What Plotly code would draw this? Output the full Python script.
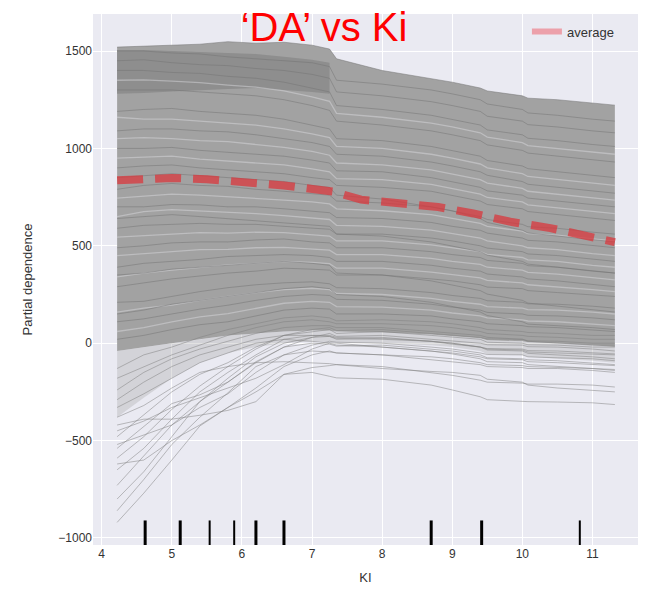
import plotly.graph_objects as go

# ---- data ----
ki = [4.22, 4.6, 5.0, 5.4, 5.8, 6.2, 6.6, 7.0, 7.25, 7.35, 8.0, 8.7, 9.0, 9.4, 9.5,
      10.0, 10.08, 10.5, 11.0, 11.32]

# envelope of the dense mass of ICE curves
mass_upper = [1520, 1525, 1530, 1535, 1548, 1540, 1545, 1530, 1510, 1460, 1400, 1360, 1340, 1310, 1295,
              1270, 1258, 1250, 1232, 1222]
mass_lower = [-40, -20, 0, 20, 40, 50, 60, 65, 65, 60, 55, 45, 35, 25, 15, 10, 5, 0, -10, -20]
soft_lower = [-380, -280, -180, -100, -50, -20, 0, 10, 10, 5, 0, -10, -20, -40, -55, -60, -70, -80, -90, -100]

# dark core (top-left)
core_x = [4.22, 4.6, 5.0, 5.4, 5.8, 6.2, 6.6, 7.0, 7.25]
core_upper = [1505, 1505, 1500, 1495, 1492, 1485, 1470, 1455, 1440]
core_lower = [1280, 1285, 1292, 1300, 1305, 1310, 1300, 1290, 1280]

# individual ICE curves fanning out below zero (estimated)
fan_lines = [
    [-920, -770, -600, -425, -330, -250, -160, -125, -115, -110, -120, -150, -165, -190, -200, -205, -210, -210, -215, -225],
    [-860, -700, -520, -380, -255, -120, -60, -40, -45, -50, -60, -85, -95, -110, -120, -125, -130, -130, -140, -150],
    [-800, -660, -480, -300, -200, -95, -20, 0, -5, -15, -10, -30, -40, -60, -75, -80, -85, -90, -100, -110],
    [-730, -580, -420, -330, -260, -150, -60, -10, 10, 5, 0, -20, -30, -50, -58, -60, -70, -75, -80, -90],
    [-650, -540, -390, -250, -150, -60, 20, 40, 40, 30, 30, 10, 0, -20, -28, -30, -38, -40, -50, -55],
    [-590, -480, -340, -220, -120, -30, 40, 60, 70, 50, 60, 40, 30, 20, 5, 0, -8, -10, -20, -20],
    [-540, -430, -310, -265, -200, -100, -20, 30, 50, 35, 40, 20, 10, 0, -8, -10, -18, -20, -30, -40],
    [-480, -370, -250, -160, -100, -20, 40, 70, 80, 65, 70, 50, 40, 30, 22, 20, 12, 10, 0, 0],
    [-420, -390, -390, -370, -345, -300, -160, -150, -170, -178, -185, -215, -240, -275, -290, -300, -300, -302, -306, -315],
    [-380, -320, -230, -150, -120, -100, -95, -100, -105, -110, -130, -145, -150, -165, -185, -200, -215, -230, -240, -250],
    [-330, -260, -180, -100, -50, 0, 20, 10, 5, 0, -20, -40, -55, -80, -95, -100, -110, -120, -130, -135],
    [-290, -200, -120, -60, -20, 20, 40, 40, 35, 25, 20, 10, 0, -20, -35, -40, -52, -60, -70, -80],
    [-520, -470, -420, -300, -180, -70, 0, 30, 35, 20, 25, 10, -5, -20, -30, -35, -45, -50, -55, -60],
    [-450, -400, -330, -280, -230, -180, -110, -30, 0, -10, -20, -40, -50, -70, -80, -85, -95, -100, -110, -115],
    [-240, -150, -80, -30, 10, 50, 80, 90, 90, 80, 80, 60, 50, 40, 30, 20, 10, 0, -10, -10],
    [-180, -120, -60, -10, 40, 80, 110, 120, 110, 100, 100, 90, 80, 60, 50, 40, 35, 30, 20, 20],
    [-620, -600, -500, -420, -330, -230, -120, -60, -40, -50, -60, -70, -80, -100, -110, -115, -120, -125, -130, -140],
    [-130, -60, -20, 30, 70, 100, 130, 140, 130, 115, 120, 110, 100, 80, 70, 60, 55, 50, 40, 40],
]

# individual ICE curves inside the dense mass (estimated)
mass_lines = [
    [20, 40, 70, 95, 110, 140, 170, 180, 175, 150, 150, 140, 125, 110, 100, 90, 85, 80, 70, 60],
    [110, 125, 150, 175, 195, 220, 240, 250, 245, 225, 220, 200, 185, 170, 158, 150, 143, 140, 130, 120],
    [210, 215, 240, 265, 285, 300, 310, 315, 305, 285, 280, 260, 245, 230, 218, 210, 202, 200, 190, 180],
    [290, 310, 330, 345, 360, 370, 385, 380, 375, 350, 350, 330, 320, 300, 288, 280, 270, 260, 250, 240],
    [390, 410, 420, 430, 445, 450, 455, 450, 440, 420, 420, 400, 385, 370, 355, 340, 330, 320, 300, 290],
    [490, 500, 515, 520, 520, 530, 535, 520, 515, 490, 490, 470, 455, 440, 425, 410, 398, 390, 370, 360],
    [590, 605, 610, 615, 610, 610, 600, 590, 585, 560, 560, 540, 525, 500, 488, 470, 458, 450, 430, 420],
    [700, 700, 712, 710, 700, 700, 690, 680, 670, 645, 640, 620, 600, 580, 565, 540, 528, 520, 500, 490],
    [790, 810, 820, 810, 805, 790, 780, 770, 760, 730, 720, 700, 680, 650, 635, 610, 598, 590, 570, 560],
    [900, 910, 915, 900, 890, 880, 870, 850, 840, 810, 800, 780, 760, 730, 712, 690, 676, 660, 640, 630],
    [1000, 1000, 1005, 990, 980, 970, 960, 940, 925, 885, 880, 850, 830, 800, 782, 760, 745, 730, 710, 700],
    [1090, 1100, 1100, 1090, 1085, 1070, 1050, 1030, 1010, 970, 960, 930, 910, 880, 862, 830, 816, 800, 780, 770],
    [1190, 1200, 1205, 1190, 1180, 1170, 1150, 1120, 1100, 1050, 1040, 1010, 990, 960, 938, 910, 896, 880, 860, 850],
    [1300, 1300, 1300, 1290, 1280, 1270, 1250, 1220, 1195, 1140, 1120, 1090, 1070, 1040, 1018, 990, 976, 960, 940, 930],
    [1400, 1400, 1390, 1385, 1370, 1360, 1340, 1310, 1290, 1220, 1200, 1170, 1150, 1120, 1095, 1070, 1052, 1040, 1020, 1010],
    [1450, 1455, 1440, 1430, 1425, 1410, 1400, 1380, 1360, 1290, 1270, 1240, 1220, 1190, 1165, 1140, 1122, 1110, 1090, 1080],
    [1500, 1500, 1490, 1485, 1470, 1460, 1450, 1440, 1420, 1350, 1330, 1300, 1280, 1250, 1228, 1200, 1182, 1170, 1150, 1140],
    [1520, 1525, 1530, 1535, 1548, 1540, 1545, 1530, 1510, 1460, 1400, 1360, 1340, 1310, 1295, 1270, 1258, 1250, 1232, 1222],
    [640, 650, 660, 650, 640, 630, 620, 610, 600, 560, 550, 520, 500, 470, 452, 420, 406, 390, 370, 360],
    [350, 360, 380, 390, 400, 410, 420, 410, 400, 360, 350, 320, 300, 270, 252, 220, 206, 190, 170, 160],
    [150, 170, 200, 220, 240, 260, 280, 290, 280, 250, 240, 210, 190, 160, 142, 110, 98, 90, 80, 70],
    [850, 860, 870, 860, 850, 840, 830, 810, 800, 760, 740, 700, 680, 640, 620, 580, 566, 550, 530, 520],
]

# light gaps between curves (white streaks)
gap_lines = [
    [1050, 1055, 1050, 1040, 1035, 1020, 1005, 985, 965, 925, 915, 890, 870, 840, 822, 795, 780, 765, 745, 735],
    [950, 955, 960, 945, 935, 925, 915, 895, 880, 845, 840, 815, 795, 765, 748, 725, 710, 695, 675, 665],
    [745, 755, 765, 760, 752, 745, 735, 725, 715, 690, 680, 660, 640, 615, 600, 575, 562, 555, 535, 525],
    [545, 552, 562, 568, 565, 570, 568, 555, 550, 525, 525, 505, 490, 470, 456, 440, 428, 420, 400, 390],
    [340, 360, 375, 388, 402, 410, 420, 415, 408, 385, 385, 365, 352, 335, 322, 310, 300, 290, 275, 265],
    [160, 180, 195, 220, 240, 260, 275, 282, 275, 255, 250, 230, 215, 200, 188, 180, 172, 170, 160, 150],
    [60, 80, 110, 135, 152, 180, 205, 215, 210, 188, 185, 170, 155, 140, 130, 120, 114, 110, 100, 90],
    [1160, 1150, 1150, 1140, 1130, 1120, 1100, 1075, 1055, 1010, 1000, 970, 950, 920, 900, 870, 856, 840, 820, 810],
    [1350, 1352, 1345, 1338, 1325, 1315, 1295, 1265, 1242, 1180, 1160, 1130, 1110, 1080, 1058, 1030, 1014, 1000, 980, 970],
    [650, 675, 686, 680, 672, 665, 655, 645, 635, 605, 600, 580, 562, 540, 525, 500, 490, 480, 460, 450],
    [450, 460, 470, 480, 482, 490, 492, 485, 478, 455, 455, 435, 420, 405, 390, 375, 364, 355, 335, 325],
]

# average curve
avg_x = [4.22, 4.6, 5.0, 5.5, 6.1, 6.6, 7.15, 7.3, 7.7, 8.25, 8.8, 9.3, 9.85, 10.4, 10.95, 11.32]
avg_y = [836, 840, 848, 842, 826, 810, 785, 778, 737, 719, 699, 666, 622, 591, 553, 519]

# rug (deciles of Ki)
rug_x = [4.62, 5.12, 5.54, 5.89, 6.2, 6.6, 8.7, 9.42, 10.82]
rug_w = [3, 3, 2, 2, 3, 3, 3, 3, 2]

x_ticks = [4, 5, 6, 7, 8, 9, 10, 11]
y_ticks = [-1000, -500, 0, 500, 1000, 1500]

fig = go.Figure()

# soft lower fringe and dense mass of curves
fig.add_trace(go.Scatter(
    x=ki + ki[::-1], y=mass_lower + soft_lower[::-1], fill="toself",
    fillcolor="rgba(150,150,150,0.28)", line=dict(width=0), mode="lines",
    hoverinfo="skip", showlegend=False))
fig.add_trace(go.Scatter(
    x=ki + ki[::-1], y=mass_upper + mass_lower[::-1], fill="toself",
    fillcolor="rgb(162,162,162)", line=dict(width=0), mode="lines",
    hoverinfo="skip", showlegend=False))
fig.add_trace(go.Scatter(
    x=core_x + core_x[::-1], y=core_upper + core_lower[::-1], fill="toself",
    fillcolor="rgb(142,142,142)", line=dict(width=0), mode="lines",
    hoverinfo="skip", showlegend=False))

for ys in gap_lines:
    fig.add_trace(go.Scatter(
        x=ki, y=ys, mode="lines",
        line=dict(color="rgba(222,222,226,0.45)", width=1.3),
        hoverinfo="skip", showlegend=False))
for ys in mass_lines:
    fig.add_trace(go.Scatter(
        x=ki, y=ys, mode="lines",
        line=dict(color="rgba(115,115,115,0.5)", width=1),
        hoverinfo="skip", showlegend=False))
for ys in fan_lines:
    fig.add_trace(go.Scatter(
        x=ki, y=ys, mode="lines",
        line=dict(color="rgba(128,128,128,0.5)", width=1),
        hoverinfo="skip", showlegend=False))

# average
fig.add_trace(go.Scatter(
    x=avg_x, y=avg_y, mode="lines", legendgroup="avg",
    line=dict(color="rgba(218,55,60,0.75)", width=8, dash="26px,12px"),
    showlegend=False))
fig.add_trace(go.Scatter(
    x=[None], y=[None], mode="lines", name="average", legendgroup="avg",
    line=dict(color="rgb(236,160,170)", width=6)))

# rug
for xv, w in zip(rug_x, rug_w):
    fig.add_trace(go.Scatter(
        x=[xv, xv], y=[-1036, -910], mode="lines",
        line=dict(color="black", width=w), hoverinfo="skip", showlegend=False))

fig.update_layout(
    width=648, height=591,
    margin=dict(l=93, r=10, t=14, b=46),
    paper_bgcolor="white", plot_bgcolor="#EAEAF2",
    font=dict(family="Liberation Sans, Arial, sans-serif", size=12, color="#333333"),
    title=dict(text="‘DA’ vs Ki", x=0.5, xanchor="center", y=0.954, yanchor="middle",
               font=dict(size=40, color="#FF0000", family="Liberation Sans, Arial, sans-serif")),
    legend=dict(x=0.965, y=0.995, xanchor="right", yanchor="top",
                bgcolor="rgba(0,0,0,0)", font=dict(size=13, color="#333333")),
    xaxis=dict(range=[3.876, 11.65], tickvals=x_ticks, showgrid=True, gridcolor="white",
               gridwidth=1.3, zeroline=False, showline=False, ticks="",
               title=dict(text="KI", font=dict(size=13), standoff=12)),
    yaxis=dict(range=[-1036, 1690], tickvals=y_ticks, showgrid=True, gridcolor="white",
               gridwidth=1.3, zeroline=False, showline=False, ticks="",
               title=dict(text="Partial dependence", font=dict(size=13), standoff=22)),
)

fig.write_html("out.html")
